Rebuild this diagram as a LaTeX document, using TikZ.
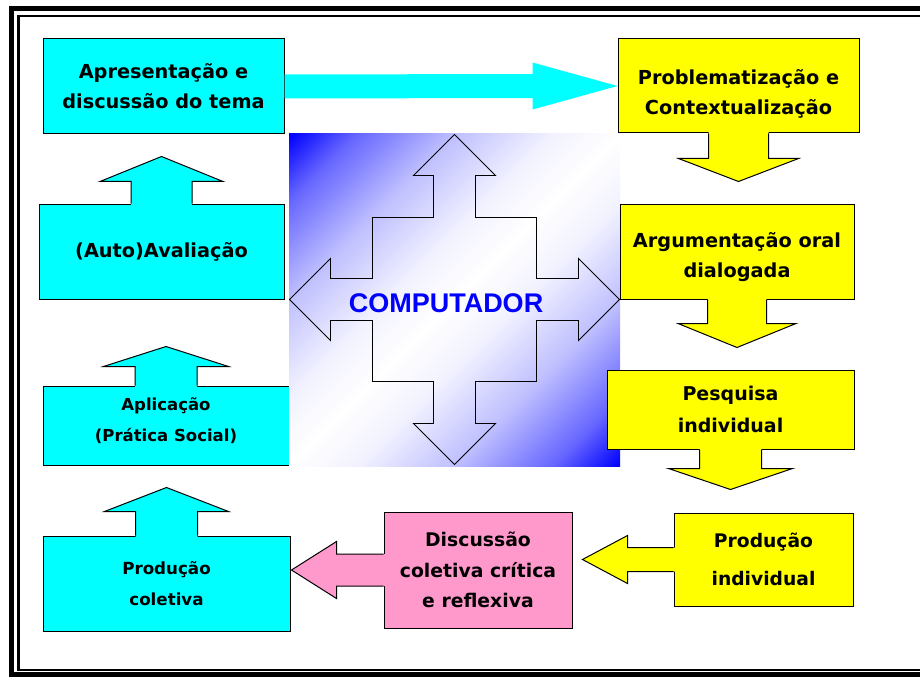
\documentclass[tikz,border=0pt]{standalone}
\usepackage{fontspec}
\setmainfont{DejaVu Sans}
\newfontfamily\compfont{Liberation Sans}
\definecolor{aqua}{RGB}{0,255,255}
\definecolor{lemon}{RGB}{255,255,0}
\definecolor{rose}{RGB}{255,153,204}
\definecolor{pureblue}{RGB}{0,0,255}
\pgfdeclarehorizontalshading{screen}{100bp}{color(0bp)=(pureblue); color(14.6bp)=(pureblue); color(21.7bp)=(pureblue!60!white); color(32.3bp)=(pureblue!25!white); color(42.9bp)=(pureblue!5!white); color(50bp)=(white); color(57.1bp)=(pureblue!5!white); color(67.7bp)=(pureblue!25!white); color(78.3bp)=(pureblue!60!white); color(85.4bp)=(pureblue); color(100bp)=(pureblue)}
\tikzstyle{stage} = [rectangle, draw=black, line width=1pt, inner sep=0pt, align=center, font=\bfseries\fontsize{19.3}{30}\selectfont]
\tikzstyle{rim} = [draw=black, line width=1pt, line join=miter]
\newcommand{\callout}[7]{
	\begin{scope}[shift={(#1)}, rotate=#2]
		\fill[#3] (-2,-#4) -- (#5,-#4) -- (#5,-#6) -- (#5+#7,0) -- (#5,#6) -- (#5,#4) -- (-2,#4) -- cycle;
		\draw[rim] (0,-#4) -- (#5,-#4) -- (#5,-#6) -- (#5+#7,0) -- (#5,#6) -- (#5,#4) -- (0,#4);
	\end{scope}}

\begin{document}
\begin{tikzpicture}[x=1pt, y=-1pt]
			\useasboundingbox (0,0) rectangle (920,679);
			\fill[white] (0,0) rectangle (920,679);
			\draw[line width=5pt] (11,9) rectangle (940,674);
			\draw[line width=2.5pt] (18.5,16) rectangle (940,670);
			\node[stage, fill=aqua, minimum width=246pt, minimum height=79pt, font=\bfseries\fontsize{16.5}{31}\selectfont] (aplic) at (166,425.5) {Aplicação\\(Prática Social)\rule[-12pt]{0pt}{0pt}};
			\callout{aplic.north}{90}{aqua}{31}{19}{62.5}{20}
			\shade[shading=screen, shading angle=-45] (289,134) rectangle (620,466);
			\draw[line width=0.9pt, line join=miter] (454.5,299.5)
				++(0,-165) -- ++(41,41) -- ++(-20,0) -- ++(0,42) -- ++(61,0) -- ++(0,61) -- ++(42,0) -- ++(0,-20)
				-- ++(41,41) -- ++(-41,41) -- ++(0,-20) -- ++(-42,0) -- ++(0,61) -- ++(-61,0) -- ++(0,42) -- ++(20,0)
				-- ++(-41,41) -- ++(-41,-41) -- ++(20,0) -- ++(0,-42) -- ++(-61,0) -- ++(0,-61) -- ++(-42,0) -- ++(0,20)
				-- ++(-41,-41) -- ++(41,-41) -- ++(0,20) -- ++(42,0) -- ++(0,-61) -- ++(61,0) -- ++(0,-42) -- ++(-20,0) -- cycle;
			\node[font=\compfont\bfseries\fontsize{27}{27}\selectfont, text=pureblue] (comp) at (446,303) {COMPUTADOR};
			\node[stage, fill=aqua, minimum width=241pt, minimum height=95pt] (apres) at (163.5,86.5) {Apresentação e\\discussão do tema};
			\node[stage, fill=lemon, minimum width=241pt, minimum height=94pt] (probl) at (738.5,86) {\rule{0pt}{30pt}Problematização e\\Contextualização};
			\callout{probl.south}{-90}{lemon}{30}{25}{60}{23}
			\fill[aqua] ([shift={(0,-12)}]apres.east) -- ([shift={(-85,-12)}]probl.west) -- ([shift={(-85,-23.5)}]probl.west) -- (probl.west)
				-- ([shift={(-85,23.5)}]probl.west) -- ([shift={(-85,12)}]probl.west) -- ([shift={(0,12)}]apres.east) -- cycle;
			\node[stage, fill=lemon, minimum width=234pt, minimum height=95pt] (argum) at (737,251.5) {\rule{0pt}{26pt}Argumentação oral\\dialogada};
			\callout{argum.south}{-90}{lemon}{29.5}{24}{59}{24}
			\node[stage, fill=lemon, minimum width=247pt, minimum height=79pt, font=\bfseries\fontsize{19}{32}\selectfont] (pesq) at (730.5,409.5) {Pesquisa\\individual};
			\callout{pesq.south}{-90}{lemon}{31}{19}{62}{21}
			\node[stage, fill=lemon, minimum width=179pt, minimum height=93pt, font=\bfseries\fontsize{18.7}{38}\selectfont] (prodind) at (763.5,559.5) {Produção\\individual};
			\callout{prodind.west}{180}{lemon}{12}{46}{24}{45}
			\node[stage, fill=rose, minimum width=188pt, minimum height=116pt, font=\bfseries\fontsize{18.8}{30.5}\selectfont] (discus) at (478,570) {Discussão\\coletiva crítica\\e reflexiva};
			\callout{discus.west}{180}{rose}{16}{47}{28.5}{45}
			\node[stage, fill=aqua, minimum width=245pt, minimum height=95pt] (auto) at (161.5,251.5) {(Auto)Avaliação};
			\callout{auto.north}{90}{aqua}{30.5}{22}{61.5}{25}
			\node[stage, fill=aqua, minimum width=247pt, minimum height=95pt, font=\bfseries\fontsize{16.7}{31}\selectfont] (prodcol) at (166.5,583.5) {Produção\\coletiva};
			\callout{prodcol.north}{90}{aqua}{31}{24}{62}{24}
		\end{tikzpicture}
\end{document}
